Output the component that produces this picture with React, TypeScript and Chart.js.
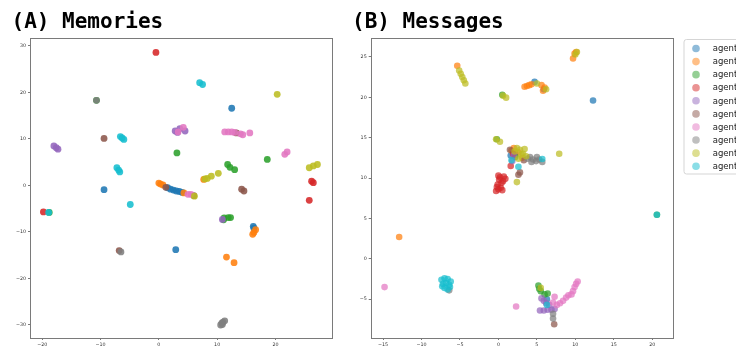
import { useEffect, useRef } from 'react';
import { Chart, registerables } from 'chart.js';
Chart.register(...registerables);

type P = [number, number];

const AGENTS = ['agent_0', 'agent_1', 'agent_2', 'agent_3', 'agent_4', 'agent_5', 'agent_6', 'agent_7', 'agent_8', 'agent_9'];
const COLORS = ['31,119,180', '255,127,14', '44,160,44', '214,39,40', '148,103,189', '140,86,75', '227,119,194', '127,127,127', '188,189,34', '23,190,207'];

// (A) Memories
const memAgent0: P[] = [[12.5, 16.6], [-9.4, -0.9], [2.9, -13.8], [1.5, -0.5], [2.0, -0.8], [2.5, -1.0], [3.0, -1.2], [3.5, -1.3], [4.0, -1.5], [16.2, -8.8], [16.3, -9.2]];
const memAgent1: P[] = [[0.0, 0.5], [0.3, 0.3], [0.7, 0.1], [4.3, -1.6], [16.6, -9.5], [16.3, -10.1], [16.1, -10.5], [11.6, -15.4], [12.9, -16.6], [7.7, 1.3]];
const memAgent2: P[] = [[3.1, 7.0], [18.6, 5.6], [11.8, 4.5], [12.2, 3.9], [13.0, 3.4], [11.2, -7.0], [11.9, -6.9], [12.3, -6.9], [11.1, -7.4], [-10.7, 18.3], [-18.8, -5.8]];
const memAgent3: P[] = [[-0.5, 28.6], [-19.8, -5.7], [26.2, 0.9], [26.5, 0.6], [25.8, -3.2]];
const memAgent4: P[] = [[-18.0, 8.5], [-17.6, 8.1], [-17.3, 7.8], [2.8, 11.7], [3.6, 12.2], [4.5, 11.7], [3.2, 11.4], [10.9, -7.3]];
const memAgent5: P[] = [[-9.4, 10.1], [1.2, -0.4], [13.3, 11.3], [14.2, -0.8], [14.6, -1.2], [-6.8, -14.0], [6.0, -2.2]];
const memAgent6: P[] = [[3.3, 11.5], [4.2, 12.5], [5.0, -1.9], [5.5, -1.9], [11.3, 11.5], [11.9, 11.5], [12.5, 11.5], [13.0, 11.4], [14.0, 11.1], [14.4, 10.9], [15.6, 11.3], [21.6, 6.7], [22.0, 7.2]];
const memAgent7: P[] = [[10.6, -30.0], [10.8, -29.6], [11.0, -29.4], [11.3, -29.1], [10.9, -29.9], [-6.5, -14.3], [-10.7, 18.3]];
const memAgent8: P[] = [[20.3, 19.6], [25.8, 3.8], [26.5, 4.2], [27.2, 4.5], [7.9, 1.4], [8.3, 1.5], [9.0, 2.0], [10.2, 2.6], [6.1, -2.3]];
const memAgent9: P[] = [[7.0, 22.1], [7.5, 21.7], [-6.6, 10.5], [-6.0, 9.9], [-6.3, 10.2], [-7.2, 3.8], [-6.9, 3.3], [-6.7, 2.9], [-4.9, -4.1], [-18.9, -5.8]];

// (B) Messages
const msgAgent0: P[] = [[12.3, 19.6], [4.7, 21.9], [5.9, 21.0], [1.6, 12.8], [2.2, 12.9], [6.3, -5.0]];
const msgAgent1: P[] = [[-5.35, 23.9], [3.4, 21.3], [3.7, 21.4], [4.0, 21.5], [4.3, 21.6], [5.6, 21.5], [6.0, 21.2], [5.8, 20.8], [9.7, 24.8], [9.9, 25.4], [10.1, 25.6], [-12.9, 2.7], [1.7, 13.4], [2.0, 13.7], [2.6, 13.2], [3.1, 12.5]];
const msgAgent2: P[] = [[0.5, 20.3], [5.2, -3.3], [5.3, -3.7], [5.5, -4.0], [6.0, -4.4], [6.4, -4.3], [20.6, 5.45], [-0.2, 14.8], [2.2, 12.6]];
const msgAgent3: P[] = [[-0.3, 8.4], [0.0, 8.6], [0.3, 8.8], [-0.1, 9.2], [0.4, 9.4], [0.1, 9.8], [0.6, 9.6], [0.2, 10.1], [0.7, 10.2], [0.9, 9.9], [0.0, 10.3], [-0.2, 8.9], [0.5, 8.5], [1.6, 11.5], [1.9, 13.0]];
const msgAgent4: P[] = [[5.6, -4.9], [5.9, -5.2], [6.2, -5.5], [6.6, -5.7], [5.4, -6.4], [5.9, -6.4], [6.4, -6.3], [6.9, -6.3], [7.3, -6.2], [2.0, 12.8], [1.8, 12.1]];
const msgAgent5: P[] = [[2.6, 10.4], [7.25, -8.1], [1.5, 13.5], [2.8, 10.7], [3.3, 12.2]];
const msgAgent6: P[] = [[-14.8, -3.5], [2.3, -5.9], [7.6, -5.7], [8.0, -5.5], [8.4, -5.2], [8.8, -4.8], [9.1, -4.5], [9.5, -4.4], [9.7, -4.0], [9.9, -3.5], [10.1, -3.1], [10.3, -2.8], [7.3, -4.7], [7.1, -5.4]];
const msgAgent7: P[] = [[4.1, 12.6], [4.5, 12.3], [4.9, 12.1], [5.3, 12.3], [5.7, 12.0], [4.3, 12.0], [3.8, 12.4], [5.0, 12.6], [-6.4, -3.9], [7.1, -6.8], [7.1, -7.4]];
const msgAgent8: P[] = [[-5.1, 23.3], [-4.9, 22.9], [-4.7, 22.5], [-4.5, 22.1], [-4.3, 21.7], [0.6, 20.2], [1.0, 19.95], [-0.3, 14.8], [0.2, 14.5], [2.4, 13.7], [2.8, 13.5], [3.2, 13.0], [3.6, 12.7], [2.6, 12.4], [3.0, 12.9], [3.4, 13.6], [2.1, 13.3], [7.9, 13.0], [2.4, 9.5], [5.0, 21.7], [6.2, 21.0], [10.0, 25.3], [10.2, 25.6], [5.5, -3.6]];
const msgAgent9: P[] = [[-7.4, -2.6], [-7.0, -2.4], [-6.6, -2.5], [-6.2, -2.8], [-7.2, -3.1], [-6.8, -3.0], [-6.4, -3.2], [-7.0, -3.6], [-6.6, -3.8], [-6.3, -3.5], [-7.3, -3.4], [1.7, 12.2], [2.6, 11.4], [5.7, 12.35], [6.3, -5.7], [20.6, 5.45]];

const MEMORIES = [memAgent0, memAgent1, memAgent2, memAgent3, memAgent4, memAgent5, memAgent6, memAgent7, memAgent8, memAgent9];
const MESSAGES = [msgAgent0, msgAgent1, msgAgent2, msgAgent3, msgAgent4, msgAgent5, msgAgent6, msgAgent7, msgAgent8, msgAgent9];

const MEM_TICKS_X = [-20, -10, 0, 10, 20];
const MEM_TICKS_Y = [-30, -20, -10, 0, 10, 20, 30];
const MSG_TICKS_X = [-15, -10, -5, 0, 5, 10, 15, 20];
const MSG_TICKS_Y = [-5, 0, 5, 10, 15, 20, 25];

const H = 347;
const fmt = (v: number) => (v < 0 ? '\u2212' + Math.abs(v) : String(v));

function boxPlugin() {
  return {
    id: 'spines',
    afterDraw(chart: any) {
      const { left, top, right, bottom } = chart.chartArea;
      const ctx = chart.ctx;
      ctx.save();
      ctx.strokeStyle = '#7a7a7a';
      ctx.lineWidth = 1;
      ctx.strokeRect(Math.round(left) + 0.5, Math.round(top) + 0.5, Math.round(right - left), Math.round(bottom - top));
      ctx.restore();
    },
  };
}

function legendPlugin(x0: number) {
  return {
    id: 'agentLegend',
    afterDraw(chart: any) {
      const ctx = chart.ctx;
      ctx.save();
      const bx = x0, by = 39.5, bh = 134.5, bw = 80, r = 2.5;
      ctx.beginPath();
      ctx.moveTo(bx + r, by);
      ctx.lineTo(bx + bw, by);
      ctx.lineTo(bx + bw, by + bh);
      ctx.lineTo(bx + r, by + bh);
      ctx.arcTo(bx, by + bh, bx, by + bh - r, r);
      ctx.lineTo(bx, by + r);
      ctx.arcTo(bx, by, bx + r, by, r);
      ctx.closePath();
      ctx.fillStyle = 'rgba(255,255,255,0.9)';
      ctx.fill();
      ctx.strokeStyle = '#d5d5d5';
      ctx.lineWidth = 1;
      ctx.stroke();
      ctx.font = '8.5px "DejaVu Sans"';
      ctx.textBaseline = 'middle';
      ctx.textAlign = 'left';
      AGENTS.forEach((name, i) => {
        const y = 48.5 + i * 13.08;
        ctx.beginPath();
        ctx.arc(bx + 12, y, 3.8, 0, Math.PI * 2);
        ctx.fillStyle = `rgba(${COLORS[i]},0.5)`;
        ctx.fill();
        ctx.fillStyle = '#1a1a1a';
        ctx.fillText(name, bx + 28.7, y + 0.5);
      });
      ctx.restore();
    },
  };
}

function makeChart(
  canvas: HTMLCanvasElement,
  series: P[][],
  ticksX: number[],
  ticksY: number[],
  xr: [number, number],
  yr: [number, number],
  area: { left: number; top: number; right: number; bottom: number },
  width: number,
  alpha: number,
  radius: number,
  extra: any[]
) {
  const tickFont = { size: 4.8, family: 'DejaVu Sans' };
  const grid = { display: true, drawOnChartArea: false, drawTicks: true, tickLength: 2, color: '#7a7a7a', lineWidth: 1 };
  return new Chart(canvas, {
    type: 'scatter',
    data: {
      datasets: series.map((pts, i) => ({
        label: AGENTS[i],
        data: pts.map(([x, y]) => ({ x, y })),
        backgroundColor: `rgba(${COLORS[i]},${alpha})`,
        borderWidth: 0,
        pointRadius: radius,
        order: 9 - i,
      })),
    },
    options: {
      animation: false,
      responsive: false,
      devicePixelRatio: 1,
      layout: { padding: { left: 0, top: area.top, right: width - area.right, bottom: 0 } },
      plugins: { legend: { display: false }, tooltip: { enabled: false } },
      scales: {
        x: {
          type: 'linear',
          min: xr[0],
          max: xr[1],
          grid,
          border: { display: false },
          afterBuildTicks: (s: any) => { s.ticks = ticksX.map((v) => ({ value: v })); },
          afterFit: (s: any) => { s.height = H - area.bottom; s.paddingLeft = 0; s.paddingRight = 0; },
          ticks: { autoSkip: false, maxRotation: 0, padding: 2, color: '#333', font: tickFont, callback: (v: any) => fmt(Number(v)) },
        },
        y: {
          type: 'linear',
          min: yr[0],
          max: yr[1],
          grid,
          border: { display: false },
          afterBuildTicks: (s: any) => { s.ticks = ticksY.map((v) => ({ value: v })); },
          afterFit: (s: any) => { s.width = area.left; s.paddingTop = 0; s.paddingBottom = 0; },
          ticks: { autoSkip: false, padding: 2, color: '#333', font: tickFont, callback: (v: any) => fmt(Number(v)) },
        },
      },
    } as any,
    plugins: [boxPlugin(), ...extra],
  });
}

export default function App() {
  const refA = useRef<HTMLCanvasElement>(null);
  const refB = useRef<HTMLCanvasElement>(null);

  useEffect(() => {
    const a = makeChart(refA.current!, MEMORIES, MEM_TICKS_X, MEM_TICKS_Y, [-22.1, 29.7], [-32.8, 31.7],
      { left: 30, top: 38, right: 332, bottom: 338 }, 345, 0.88, 3.4, []);
    const b = makeChart(refB.current!, MESSAGES, MSG_TICKS_X, MSG_TICKS_Y, [-16.6, 22.6], [-9.8, 27.3],
      { left: 25.7, top: 38.3, right: 327.3, bottom: 338 }, 391, 0.72, 3.3, [legendPlugin(339)]);
    return () => { a.destroy(); b.destroy(); };
  }, []);

  const titleStyle: any = {
    position: 'absolute',
    top: 10.5,
    margin: 0,
    fontFamily: '"DejaVu Sans Mono", monospace',
    fontWeight: 'bold',
    fontSize: 21,
    lineHeight: '21px',
    color: '#000',
    whiteSpace: 'nowrap',
  };

  return (
    <div style={{ position: 'fixed', left: 0, top: 0, width: 736, height: H, overflow: 'hidden', background: '#fff' }}>
      <canvas ref={refA} width={345} height={H} style={{ position: 'absolute', left: 0, top: 0, width: 345, height: H }} />
      <canvas ref={refB} width={391} height={H} style={{ position: 'absolute', left: 345, top: 0, width: 391, height: H }} />
      <div style={{ ...titleStyle, left: 11.5 }}>(A) Memories</div>
      <div style={{ ...titleStyle, left: 352 }}>(B) Messages</div>
    </div>
  );
}
